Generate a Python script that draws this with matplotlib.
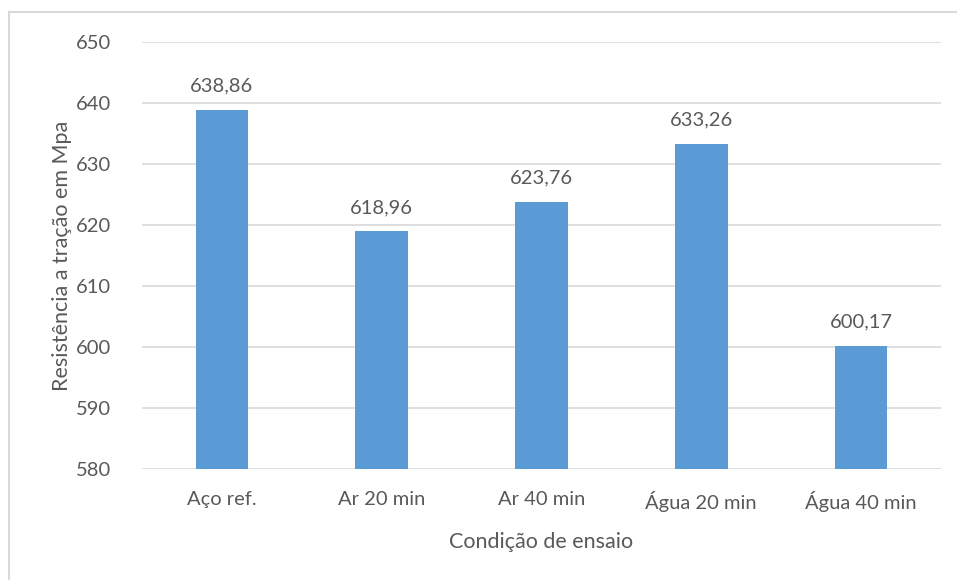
import matplotlib
matplotlib.use("Agg")
import matplotlib.pyplot as plt
from matplotlib.patches import Rectangle

categories = ["Aço ref.", "Ar 20 min", "Ar 40 min", "Água 20 min", "Água 40 min"]
values = [638.86, 618.96, 623.76, 633.26, 600.17]
labels = ["638,86", "618,96", "623,76", "633,26", "600,17"]
yticks = [580, 590, 600, 610, 620, 630, 640, 650]

plt.rcParams['font.family'] = ['Lato', 'DejaVu Sans']
txt = '#595959'

fig = plt.figure(figsize=(9.57, 5.8), dpi=100)
fig.patches.append(Rectangle((9/957, -0.05), 1.1, 1.05 - 12/580, transform=fig.transFigure,
                             fill=False, edgecolor='#D9D9D9', linewidth=1.5))
ax = fig.add_axes([142/957, 1 - 469/580, (941 - 142)/957, (469 - 42)/580])

x = list(range(len(categories)))
ax.bar(x, values, width=0.33, color='#5B9BD5', zorder=3)
for xi, v, l in zip(x, values, labels):
    ax.text(xi, v + 2.5, l, ha='center', va='bottom', fontsize=14.5, color=txt)

ax.set_ylim(580, 650)
ax.set_xlim(-0.5, len(categories) - 0.5)
ax.set_yticks(yticks)
ax.set_yticklabels([str(t) for t in yticks], fontsize=14.5, color=txt)
ax.set_xticks(x)
ax.set_xticklabels(categories, fontsize=14.5, color=txt)
ax.tick_params(axis='both', length=0)
ax.tick_params(axis='y', pad=22)
ax.tick_params(axis='x', pad=16)
ax.grid(axis='y', color='#D9D9D9', linewidth=1.2, zorder=0)
for s in ax.spines.values():
    s.set_visible(False)

ax.set_ylabel("Resistência a tração em Mpa", fontsize=15.5, color=txt)
ax.yaxis.set_label_coords(-0.100, 0.5)
ax.set_xlabel("Condição de ensaio", fontsize=15.5, color=txt)
ax.xaxis.set_label_coords(0.5, -0.171)
ax.xaxis.label.set_va('center')
ax.yaxis.label.set_va('center')

fig.savefig("out.png", dpi=100)
